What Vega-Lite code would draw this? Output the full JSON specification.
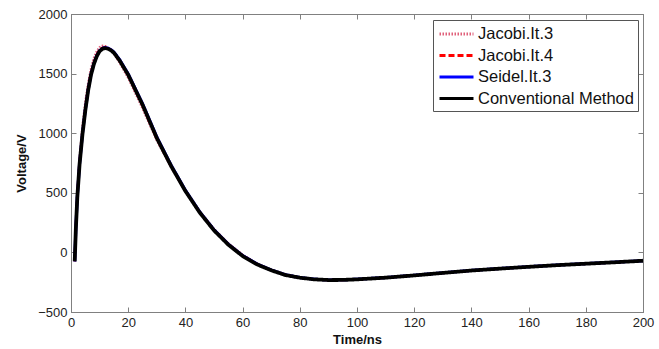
{
  "$schema": "https://vega.github.io/schema/vega-lite/v6.json",
  "width": 572,
  "height": 298,
  "autosize": {"type": "none"},
  "padding": {"left": 71, "top": 14, "right": 16, "bottom": 37},
  "background": "white",
  "config": {
    "view": {"stroke": "#808080", "strokeWidth": 1},
    "font": "Liberation Sans",
    "axis": {
      "grid": false,
      "domainColor": "#808080",
      "tickColor": "#808080",
      "tickSize": -5,
      "labelFont": "Liberation Sans",
      "labelFontSize": 13,
      "labelColor": "#222222",
      "titleFont": "Liberation Sans",
      "titleFontSize": 13,
      "titleFontWeight": "bold",
      "titleColor": "#111111"
    }
  },
  "datasets": {
    "curves": [
      {"t": 1.3, "v": -75, "m": "Conventional Method"},
      {"t": 1.7, "v": 200, "m": "Conventional Method"},
      {"t": 2.2, "v": 460, "m": "Conventional Method"},
      {"t": 3, "v": 740, "m": "Conventional Method"},
      {"t": 4, "v": 990, "m": "Conventional Method"},
      {"t": 5, "v": 1190, "m": "Conventional Method"},
      {"t": 6, "v": 1360, "m": "Conventional Method"},
      {"t": 7, "v": 1490, "m": "Conventional Method"},
      {"t": 8, "v": 1580, "m": "Conventional Method"},
      {"t": 9, "v": 1645, "m": "Conventional Method"},
      {"t": 10, "v": 1688, "m": "Conventional Method"},
      {"t": 11, "v": 1708, "m": "Conventional Method"},
      {"t": 12, "v": 1714, "m": "Conventional Method"},
      {"t": 13, "v": 1708, "m": "Conventional Method"},
      {"t": 14, "v": 1695, "m": "Conventional Method"},
      {"t": 15, "v": 1675, "m": "Conventional Method"},
      {"t": 17, "v": 1610, "m": "Conventional Method"},
      {"t": 20, "v": 1490, "m": "Conventional Method"},
      {"t": 25, "v": 1240, "m": "Conventional Method"},
      {"t": 30, "v": 960, "m": "Conventional Method"},
      {"t": 35, "v": 725, "m": "Conventional Method"},
      {"t": 40, "v": 515, "m": "Conventional Method"},
      {"t": 45, "v": 335, "m": "Conventional Method"},
      {"t": 50, "v": 185, "m": "Conventional Method"},
      {"t": 55, "v": 65, "m": "Conventional Method"},
      {"t": 60, "v": -30, "m": "Conventional Method"},
      {"t": 65, "v": -100, "m": "Conventional Method"},
      {"t": 70, "v": -150, "m": "Conventional Method"},
      {"t": 75, "v": -190, "m": "Conventional Method"},
      {"t": 80, "v": -212, "m": "Conventional Method"},
      {"t": 85, "v": -226, "m": "Conventional Method"},
      {"t": 90, "v": -232, "m": "Conventional Method"},
      {"t": 95, "v": -231, "m": "Conventional Method"},
      {"t": 100, "v": -226, "m": "Conventional Method"},
      {"t": 110, "v": -212, "m": "Conventional Method"},
      {"t": 120, "v": -193, "m": "Conventional Method"},
      {"t": 130, "v": -172, "m": "Conventional Method"},
      {"t": 140, "v": -152, "m": "Conventional Method"},
      {"t": 150, "v": -136, "m": "Conventional Method"},
      {"t": 160, "v": -121, "m": "Conventional Method"},
      {"t": 170, "v": -107, "m": "Conventional Method"},
      {"t": 180, "v": -95, "m": "Conventional Method"},
      {"t": 190, "v": -83, "m": "Conventional Method"},
      {"t": 200, "v": -70, "m": "Conventional Method"},

      {"t": 1.3, "v": -75, "m": "Seidel.It.3"},
      {"t": 1.7, "v": 205, "m": "Seidel.It.3"},
      {"t": 2.2, "v": 465, "m": "Seidel.It.3"},
      {"t": 3, "v": 745, "m": "Seidel.It.3"},
      {"t": 4, "v": 995, "m": "Seidel.It.3"},
      {"t": 5, "v": 1195, "m": "Seidel.It.3"},
      {"t": 6, "v": 1365, "m": "Seidel.It.3"},
      {"t": 7, "v": 1495, "m": "Seidel.It.3"},
      {"t": 8, "v": 1585, "m": "Seidel.It.3"},
      {"t": 9, "v": 1650, "m": "Seidel.It.3"},
      {"t": 10, "v": 1692, "m": "Seidel.It.3"},
      {"t": 11, "v": 1712, "m": "Seidel.It.3"},
      {"t": 12, "v": 1718, "m": "Seidel.It.3"},
      {"t": 13, "v": 1713, "m": "Seidel.It.3"},
      {"t": 14, "v": 1700, "m": "Seidel.It.3"},
      {"t": 15, "v": 1681, "m": "Seidel.It.3"},
      {"t": 17, "v": 1617, "m": "Seidel.It.3"},
      {"t": 20, "v": 1497, "m": "Seidel.It.3"},
      {"t": 25, "v": 1248, "m": "Seidel.It.3"},
      {"t": 30, "v": 968, "m": "Seidel.It.3"},
      {"t": 35, "v": 732, "m": "Seidel.It.3"},
      {"t": 40, "v": 521, "m": "Seidel.It.3"},
      {"t": 45, "v": 340, "m": "Seidel.It.3"},
      {"t": 50, "v": 190, "m": "Seidel.It.3"},
      {"t": 55, "v": 69, "m": "Seidel.It.3"},
      {"t": 60, "v": -27, "m": "Seidel.It.3"},
      {"t": 65, "v": -97, "m": "Seidel.It.3"},
      {"t": 70, "v": -148, "m": "Seidel.It.3"},
      {"t": 75, "v": -188, "m": "Seidel.It.3"},
      {"t": 80, "v": -211, "m": "Seidel.It.3"},
      {"t": 85, "v": -225, "m": "Seidel.It.3"},
      {"t": 90, "v": -231, "m": "Seidel.It.3"},
      {"t": 95, "v": -230, "m": "Seidel.It.3"},
      {"t": 100, "v": -225, "m": "Seidel.It.3"},
      {"t": 110, "v": -211, "m": "Seidel.It.3"},
      {"t": 120, "v": -192, "m": "Seidel.It.3"},
      {"t": 130, "v": -171, "m": "Seidel.It.3"},
      {"t": 140, "v": -151, "m": "Seidel.It.3"},
      {"t": 150, "v": -135, "m": "Seidel.It.3"},
      {"t": 160, "v": -120, "m": "Seidel.It.3"},
      {"t": 170, "v": -106, "m": "Seidel.It.3"},
      {"t": 180, "v": -94, "m": "Seidel.It.3"},
      {"t": 190, "v": -82, "m": "Seidel.It.3"},
      {"t": 200, "v": -70, "m": "Seidel.It.3"},

      {"t": 1.3, "v": -75, "m": "Jacobi.It.4"},
      {"t": 1.7, "v": 215, "m": "Jacobi.It.4"},
      {"t": 2.2, "v": 480, "m": "Jacobi.It.4"},
      {"t": 3, "v": 760, "m": "Jacobi.It.4"},
      {"t": 4, "v": 1010, "m": "Jacobi.It.4"},
      {"t": 5, "v": 1210, "m": "Jacobi.It.4"},
      {"t": 6, "v": 1378, "m": "Jacobi.It.4"},
      {"t": 7, "v": 1506, "m": "Jacobi.It.4"},
      {"t": 8, "v": 1595, "m": "Jacobi.It.4"},
      {"t": 9, "v": 1660, "m": "Jacobi.It.4"},
      {"t": 10, "v": 1700, "m": "Jacobi.It.4"},
      {"t": 11, "v": 1718, "m": "Jacobi.It.4"},
      {"t": 12, "v": 1722, "m": "Jacobi.It.4"},
      {"t": 13, "v": 1714, "m": "Jacobi.It.4"},
      {"t": 14, "v": 1699, "m": "Jacobi.It.4"},
      {"t": 15, "v": 1678, "m": "Jacobi.It.4"},
      {"t": 17, "v": 1610, "m": "Jacobi.It.4"},
      {"t": 20, "v": 1487, "m": "Jacobi.It.4"},
      {"t": 25, "v": 1236, "m": "Jacobi.It.4"},
      {"t": 30, "v": 957, "m": "Jacobi.It.4"},
      {"t": 35, "v": 724, "m": "Jacobi.It.4"},
      {"t": 40, "v": 516, "m": "Jacobi.It.4"},
      {"t": 45, "v": 338, "m": "Jacobi.It.4"},
      {"t": 50, "v": 189, "m": "Jacobi.It.4"},
      {"t": 55, "v": 69, "m": "Jacobi.It.4"},
      {"t": 60, "v": -26, "m": "Jacobi.It.4"},
      {"t": 65, "v": -97, "m": "Jacobi.It.4"},
      {"t": 70, "v": -148, "m": "Jacobi.It.4"},
      {"t": 75, "v": -189, "m": "Jacobi.It.4"},
      {"t": 80, "v": -212, "m": "Jacobi.It.4"},
      {"t": 85, "v": -226, "m": "Jacobi.It.4"},
      {"t": 90, "v": -232, "m": "Jacobi.It.4"},
      {"t": 95, "v": -231, "m": "Jacobi.It.4"},
      {"t": 100, "v": -226, "m": "Jacobi.It.4"},
      {"t": 110, "v": -212, "m": "Jacobi.It.4"},
      {"t": 120, "v": -193, "m": "Jacobi.It.4"},
      {"t": 130, "v": -172, "m": "Jacobi.It.4"},
      {"t": 140, "v": -152, "m": "Jacobi.It.4"},
      {"t": 150, "v": -136, "m": "Jacobi.It.4"},
      {"t": 160, "v": -121, "m": "Jacobi.It.4"},
      {"t": 170, "v": -107, "m": "Jacobi.It.4"},
      {"t": 180, "v": -95, "m": "Jacobi.It.4"},
      {"t": 190, "v": -83, "m": "Jacobi.It.4"},
      {"t": 200, "v": -70, "m": "Jacobi.It.4"},

      {"t": 1.3, "v": -70, "m": "Jacobi.It.3"},
      {"t": 1.7, "v": 250, "m": "Jacobi.It.3"},
      {"t": 2.2, "v": 520, "m": "Jacobi.It.3"},
      {"t": 3, "v": 810, "m": "Jacobi.It.3"},
      {"t": 4, "v": 1070, "m": "Jacobi.It.3"},
      {"t": 5, "v": 1270, "m": "Jacobi.It.3"},
      {"t": 6, "v": 1430, "m": "Jacobi.It.3"},
      {"t": 7, "v": 1550, "m": "Jacobi.It.3"},
      {"t": 8, "v": 1635, "m": "Jacobi.It.3"},
      {"t": 9, "v": 1690, "m": "Jacobi.It.3"},
      {"t": 10, "v": 1722, "m": "Jacobi.It.3"},
      {"t": 11, "v": 1735, "m": "Jacobi.It.3"},
      {"t": 12, "v": 1732, "m": "Jacobi.It.3"},
      {"t": 13, "v": 1716, "m": "Jacobi.It.3"},
      {"t": 14, "v": 1692, "m": "Jacobi.It.3"},
      {"t": 15, "v": 1664, "m": "Jacobi.It.3"},
      {"t": 17, "v": 1588, "m": "Jacobi.It.3"},
      {"t": 20, "v": 1460, "m": "Jacobi.It.3"},
      {"t": 25, "v": 1205, "m": "Jacobi.It.3"},
      {"t": 30, "v": 935, "m": "Jacobi.It.3"},
      {"t": 35, "v": 712, "m": "Jacobi.It.3"},
      {"t": 40, "v": 515, "m": "Jacobi.It.3"},
      {"t": 45, "v": 345, "m": "Jacobi.It.3"},
      {"t": 50, "v": 198, "m": "Jacobi.It.3"},
      {"t": 55, "v": 78, "m": "Jacobi.It.3"},
      {"t": 60, "v": -18, "m": "Jacobi.It.3"},
      {"t": 65, "v": -92, "m": "Jacobi.It.3"},
      {"t": 70, "v": -146, "m": "Jacobi.It.3"},
      {"t": 75, "v": -187, "m": "Jacobi.It.3"},
      {"t": 80, "v": -211, "m": "Jacobi.It.3"},
      {"t": 85, "v": -226, "m": "Jacobi.It.3"},
      {"t": 90, "v": -232, "m": "Jacobi.It.3"},
      {"t": 95, "v": -231, "m": "Jacobi.It.3"},
      {"t": 100, "v": -226, "m": "Jacobi.It.3"},
      {"t": 110, "v": -212, "m": "Jacobi.It.3"},
      {"t": 120, "v": -193, "m": "Jacobi.It.3"},
      {"t": 130, "v": -172, "m": "Jacobi.It.3"},
      {"t": 140, "v": -152, "m": "Jacobi.It.3"},
      {"t": 150, "v": -136, "m": "Jacobi.It.3"},
      {"t": 160, "v": -121, "m": "Jacobi.It.3"},
      {"t": 170, "v": -107, "m": "Jacobi.It.3"},
      {"t": 180, "v": -95, "m": "Jacobi.It.3"},
      {"t": 190, "v": -83, "m": "Jacobi.It.3"},
      {"t": 200, "v": -70, "m": "Jacobi.It.3"}
    ]
  },
  "data": {"name": "curves"},
  "resolve": {"axis": {"x": "independent", "y": "independent"}},
  "layer": [
    {
      "encoding": {
        "x": {
          "field": "t", "type": "quantitative",
          "scale": {"domain": [0, 200], "nice": false},
          "axis": {"title": "Time/ns", "values": [0,20,40,60,80,100,120,140,160,180,200], "format": "d", "labelPadding": 9, "titlePadding": 4, "labelFlush": false}
        },
        "y": {
          "field": "v", "type": "quantitative",
          "scale": {"domain": [-500, 2000], "nice": false, "zero": false},
          "axis": {"title": "Voltage/V", "values": [-500,0,500,1000,1500,2000], "format": "d", "labelPadding": 9, "titlePadding": 9, "labelFlush": false}
        },
        "color": {
          "field": "m", "type": "nominal",
          "scale": {
            "domain": ["Jacobi.It.3", "Jacobi.It.4", "Seidel.It.3", "Conventional Method"],
            "range": ["#e0607a", "#ff0000", "#0000ff", "#000000"]
          },
          "legend": {
            "title": null,
            "orient": "none",
            "legendX": 362,
            "legendY": 6,
            "strokeColor": "#555555",
            "fillColor": "white",
            "padding": 4,
            "symbolType": "M-1,0H3",
            "symbolSize": 289,
            "symbolStrokeWidth": 3,
            "labelFontSize": 16.5,
            "labelColor": "#111111",
            "labelFont": "Liberation Sans",
            "rowPadding": 2.5,
            "labelOffset": 20,
            "symbolOffset": 1
          }
        },
        "strokeDash": {
          "field": "m", "type": "nominal",
          "scale": {
            "domain": ["Jacobi.It.3", "Jacobi.It.4", "Seidel.It.3", "Conventional Method"],
            "range": [[1.5, 1.5], [6, 3], [1, 0], [1, 0]]
          },
          "legend": null
        },
        "order": {"field": "t", "type": "quantitative"}
      },
      "layer": [
        {
          "transform": [{"filter": "datum.m == 'Jacobi.It.3'"}],
          "mark": {"type": "line", "clip": true, "strokeWidth": 2}
        },
        {
          "transform": [{"filter": "datum.m == 'Jacobi.It.4'"}],
          "mark": {"type": "line", "clip": true, "strokeWidth": 2.5}
        },
        {
          "transform": [{"filter": "datum.m == 'Seidel.It.3'"}],
          "mark": {"type": "line", "clip": true, "strokeWidth": 3}
        },
        {
          "transform": [{"filter": "datum.m == 'Conventional Method'"}],
          "mark": {"type": "line", "clip": true, "strokeWidth": 3.8}
        }
      ]
    },
    {
      "mark": {"type": "point", "opacity": 0},
      "encoding": {
        "x": {"field": "t", "type": "quantitative", "axis": {"orient": "top", "labels": false, "title": null, "values": [0,20,40,60,80,100,120,140,160,180,200]}},
        "y": {"field": "v", "type": "quantitative", "axis": {"orient": "right", "labels": false, "title": null, "values": [-500,0,500,1000,1500,2000]}}
      }
    }
  ]
}
